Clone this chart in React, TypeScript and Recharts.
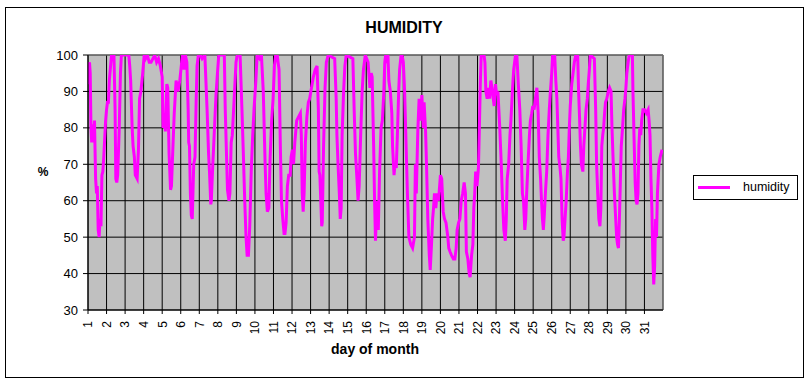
import React from 'react';
import { LineChart, Line, XAxis, YAxis, CartesianGrid, ReferenceLine, Legend } from 'recharts';

const FONT = '"Liberation Sans", Arial, sans-serif';

const dayTicks = [1, 2, 3, 4, 5, 6, 7, 8, 9, 10, 11, 12, 13, 14, 15, 16, 17, 18, 19, 20, 21, 22, 23, 24, 25, 26, 27, 28, 29, 30, 31];
const percentTicks = [30, 40, 50, 60, 70, 80, 90, 100];

// [day of month (fractional), humidity %]
const days1to5: [number, number][] = [
  [1.0, 92], [1.03, 97], [1.08, 98], [1.12, 95], [1.16, 80], [1.2, 76], [1.25, 81], [1.3, 76], [1.35, 82],
  [1.41, 66], [1.46, 62], [1.5, 64], [1.55, 52], [1.6, 50], [1.65, 55], [1.7, 53], [1.75, 67], [1.8, 68],
  [1.85, 72], [1.9, 77], [1.95, 82], [2.0, 85], [2.05, 87], [2.1, 87], [2.15, 93], [2.2, 96], [2.27, 100],
  [2.4, 100], [2.46, 85], [2.5, 66], [2.55, 65], [2.6, 67], [2.68, 79], [2.75, 95], [2.8, 100], [3.2, 100],
  [3.25, 97], [3.3, 93], [3.38, 80], [3.43, 75], [3.5, 72], [3.55, 67], [3.65, 66], [3.72, 74], [3.78, 88],
  [3.85, 90], [3.95, 95], [4.03, 100], [4.1, 99], [4.2, 100], [4.3, 98], [4.4, 98], [4.5, 99], [4.6, 100],
  [4.7, 98], [4.8, 99], [4.9, 97], [5.0, 94], [5.05, 80], [5.1, 84], [5.17, 79], [5.25, 92], [5.3, 91],
  [5.37, 73], [5.45, 63], [5.5, 64], [5.58, 75], [5.65, 84], [5.75, 93], [5.85, 90],
];

const days6to10: [number, number][] = [
  [5.95, 93], [6.05, 98], [6.1, 100], [6.18, 96], [6.25, 100], [6.33, 98], [6.4, 85], [6.43, 76], [6.47, 75],
  [6.52, 62], [6.57, 56], [6.62, 55], [6.7, 70], [6.77, 72], [6.83, 87], [6.88, 97], [6.95, 100], [7.05, 100],
  [7.15, 99], [7.3, 100], [7.42, 85], [7.5, 73], [7.55, 68], [7.62, 59], [7.65, 60], [7.72, 69], [7.82, 80],
  [7.9, 89], [7.98, 95], [8.05, 100], [8.35, 100], [8.4, 85], [8.47, 72], [8.52, 63], [8.6, 60], [8.65, 62],
  [8.72, 76], [8.78, 78], [8.88, 88], [8.98, 98], [9.05, 100], [9.2, 100], [9.3, 85], [9.38, 72], [9.45, 60],
  [9.52, 50], [9.58, 45], [9.65, 45], [9.72, 53], [9.8, 68], [9.88, 78], [9.95, 85], [10.05, 93], [10.12, 100],
  [10.25, 99], [10.35, 100], [10.45, 90], [10.5, 80], [10.55, 70], [10.6, 62], [10.67, 57], [10.75, 58],
  [10.82, 72], [10.9, 82], [10.98, 88],
];

const days11to15: [number, number][] = [
  [11.05, 97], [11.12, 100], [11.2, 100], [11.3, 96], [11.37, 75], [11.43, 60], [11.5, 55], [11.57, 51],
  [11.62, 51], [11.68, 54], [11.75, 64], [11.82, 67], [11.9, 67], [11.95, 72], [12.02, 74], [12.08, 70],
  [12.15, 76], [12.25, 82], [12.35, 83], [12.45, 84], [12.5, 78], [12.55, 62], [12.6, 57], [12.65, 62],
  [12.72, 76], [12.8, 83], [12.88, 87], [12.95, 88], [13.05, 91], [13.15, 94], [13.25, 96], [13.35, 97],
  [13.42, 85], [13.46, 68], [13.5, 67], [13.55, 60], [13.6, 53], [13.63, 54], [13.7, 75], [13.78, 91],
  [13.85, 98], [13.95, 100], [14.3, 99], [14.38, 88], [14.42, 78], [14.48, 70], [14.55, 62], [14.6, 55],
  [14.65, 58], [14.7, 78], [14.78, 90], [14.85, 97], [14.92, 100], [15.28, 99], [15.35, 85], [15.42, 73],
  [15.5, 66], [15.56, 60], [15.62, 64], [15.7, 78], [15.78, 90], [15.85, 96], [15.95, 100],
];

const days16to20: [number, number][] = [
  [16.1, 98], [16.2, 91], [16.27, 95], [16.32, 94], [16.4, 75], [16.45, 60], [16.5, 49], [16.55, 56],
  [16.6, 60], [16.65, 52], [16.72, 68], [16.8, 80], [16.87, 82], [16.95, 90], [17.0, 98], [17.05, 100],
  [17.1, 99], [17.17, 100], [17.22, 93], [17.3, 90], [17.38, 84], [17.42, 75], [17.5, 67], [17.55, 70],
  [17.62, 69], [17.68, 78], [17.75, 90], [17.8, 96], [17.88, 100], [17.93, 100], [18.0, 98], [18.07, 90],
  [18.15, 75], [18.22, 62], [18.3, 50], [18.4, 48], [18.5, 47], [18.6, 50], [18.65, 70], [18.7, 62],
  [18.78, 79], [18.85, 88], [18.92, 82], [19.0, 89], [19.08, 80], [19.12, 87], [19.2, 79], [19.25, 70],
  [19.32, 55], [19.4, 45], [19.45, 41], [19.52, 48], [19.58, 55], [19.63, 58], [19.68, 62], [19.75, 58],
  [19.82, 62], [19.9, 60], [20.0, 67], [20.07, 66], [20.15, 57], [20.22, 55], [20.3, 54], [20.4, 50],
  [20.45, 47], [20.52, 46], [20.6, 45], [20.7, 44], [20.78, 44], [20.85, 47], [20.9, 52], [20.98, 54],
];

const days21to25: [number, number][] = [
  [21.05, 55], [21.12, 60], [21.2, 62], [21.28, 65], [21.35, 62], [21.4, 46], [21.48, 44], [21.55, 40],
  [21.6, 39], [21.68, 45], [21.75, 48], [21.8, 58], [21.85, 62], [21.9, 68], [21.97, 64], [22.05, 69],
  [22.1, 80], [22.15, 92], [22.2, 100], [22.35, 100], [22.4, 98], [22.45, 90], [22.52, 88], [22.6, 91],
  [22.65, 88], [22.72, 93], [22.78, 91], [22.85, 88], [22.9, 86], [22.97, 92], [23.03, 89], [23.1, 90],
  [23.15, 85], [23.2, 80], [23.28, 70], [23.35, 60], [23.42, 52], [23.5, 49], [23.55, 55], [23.6, 66],
  [23.68, 70], [23.75, 78], [23.8, 82], [23.88, 90], [23.95, 96], [24.05, 100], [24.12, 100], [24.2, 92],
  [24.28, 85], [24.35, 75], [24.42, 62], [24.48, 60], [24.55, 52], [24.6, 55], [24.65, 62], [24.72, 70],
  [24.8, 78], [24.85, 82], [24.92, 84], [24.98, 86], [25.05, 85], [25.12, 88], [25.2, 91], [25.27, 84],
  [25.33, 72], [25.4, 66], [25.45, 60], [25.5, 55], [25.55, 52], [25.6, 56], [25.67, 63], [25.73, 68],
  [25.8, 78], [25.87, 85], [25.93, 90], [26.0, 95], [26.05, 100],
];

const days26to31: [number, number][] = [
  [26.16, 100], [26.22, 93], [26.28, 88], [26.33, 80], [26.38, 72], [26.45, 69], [26.5, 66], [26.56, 55],
  [26.62, 49], [26.66, 50], [26.72, 55], [26.78, 60], [26.85, 68], [26.9, 72], [26.95, 80], [27.0, 86],
  [27.08, 92], [27.15, 95], [27.22, 98], [27.3, 100], [27.4, 100], [27.45, 90], [27.5, 83], [27.55, 75],
  [27.6, 70], [27.68, 68], [27.73, 75], [27.78, 79], [27.85, 85], [27.92, 88], [27.97, 92], [28.03, 96],
  [28.08, 100], [28.3, 99], [28.37, 85], [28.42, 70], [28.48, 62], [28.54, 55], [28.6, 53], [28.65, 58],
  [28.7, 75], [28.75, 78], [28.8, 80], [28.85, 84], [28.9, 87], [28.97, 88], [29.05, 90], [29.12, 91],
  [29.2, 90], [29.25, 80], [29.32, 70], [29.38, 62], [29.45, 55], [29.5, 50], [29.55, 48], [29.6, 47],
  [29.65, 55], [29.7, 65], [29.75, 75], [29.82, 80], [29.88, 85], [29.95, 88], [30.0, 91], [30.05, 95],
  [30.12, 98], [30.18, 100], [30.35, 100], [30.38, 90], [30.45, 75], [30.5, 65], [30.55, 60], [30.6, 59],
  [30.65, 62], [30.7, 75], [30.75, 80], [30.8, 78], [30.85, 82], [30.92, 85], [31.0, 85], [31.1, 84],
  [31.2, 85], [31.25, 82], [31.3, 78], [31.35, 66], [31.4, 58], [31.45, 45], [31.5, 37], [31.55, 42],
  [31.6, 55], [31.65, 50], [31.7, 62], [31.78, 70], [31.85, 72], [31.95, 74],
];

const readings = [...days1to5, ...days6to10, ...days11to15, ...days16to20, ...days21to25, ...days26to31].map(
  ([day, humidity]) => ({ day, humidity })
);

const DayTick = (props: any) => {
  const { x, y, payload } = props;
  return (
    <text
      transform={`translate(${x},${y}) rotate(-90)`}
      x={0}
      y={0}
      dy="0.36em"
      textAnchor="end"
      fontSize={12}
      fontFamily={FONT}
      fill="#000"
    >
      {payload.value}
    </text>
  );
};

const LegendBox = () => (
  <div
    style={{
      position: 'relative',
      width: 105,
      height: 25,
      border: '1px solid #000',
      boxSizing: 'border-box',
      background: '#fff',
      fontFamily: FONT,
    }}
  >
    <div style={{ position: 'absolute', left: 4, top: 10, width: 32, height: 3, background: '#FF00FF' }} />
    <div style={{ position: 'absolute', left: 49, top: 4, fontSize: 12.5, lineHeight: '14px', color: '#000' }}>
      humidity
    </div>
  </div>
);

export default function App() {
  return (
    <div style={{ position: 'absolute', left: 0, top: 0, width: 809, height: 384, background: '#fff' }}>
      <svg width={809} height={384} style={{ position: 'absolute', left: 0, top: 0 }}>
        <rect x={5.5} y={7.5} width={798} height={370} fill="#fff" stroke="#000" strokeWidth={1} />
        <text x={404} y={33} textAnchor="middle" fontFamily={FONT} fontWeight="bold" fontSize={16} fill="#000">
          HUMIDITY
        </text>
        <text x={43} y={176} textAnchor="middle" fontFamily={FONT} fontWeight="bold" fontSize={12} fill="#000">
          %
        </text>
        <text x={375} y={354} textAnchor="middle" fontFamily={FONT} fontWeight="bold" fontSize={14} fill="#000">
          day of month
        </text>
      </svg>
      <div style={{ position: 'absolute', left: 0, top: 0 }}>
        <LineChart
          width={809}
          height={384}
          data={readings}
          margin={{ top: 55, right: 146, bottom: 19, left: 48 }}
        >
          <CartesianGrid stroke="#000" fill="#C0C0C0" fillOpacity={1} strokeWidth={1} />
          <XAxis
            dataKey="day"
            type="number"
            domain={[1, 32]}
            ticks={dayTicks}
            interval={0}
            height={30}
            stroke="#000"
            tickSize={4}
            tickMargin={7}
            tick={<DayTick />}
            allowDataOverflow
          />
          <YAxis
            type="number"
            domain={[30, 100]}
            ticks={percentTicks}
            interval={0}
            width={40}
            stroke="#000"
            tickSize={5}
            tickMargin={5}
            tick={{ fill: '#000', fontSize: 13, fontFamily: FONT }}
            allowDataOverflow
          />
          <ReferenceLine y={100} stroke="#808080" />
          <ReferenceLine x={32} stroke="#808080" />
          <Legend
            content={<LegendBox />}
            wrapperStyle={{ position: 'absolute', left: 693, top: 175, width: 105, height: 25 }}
          />
          <Line
            type="linear"
            dataKey="humidity"
            stroke="#FF00FF"
            strokeWidth={3}
            dot={false}
            activeDot={false}
            isAnimationActive={false}
          />
        </LineChart>
      </div>
    </div>
  );
}
